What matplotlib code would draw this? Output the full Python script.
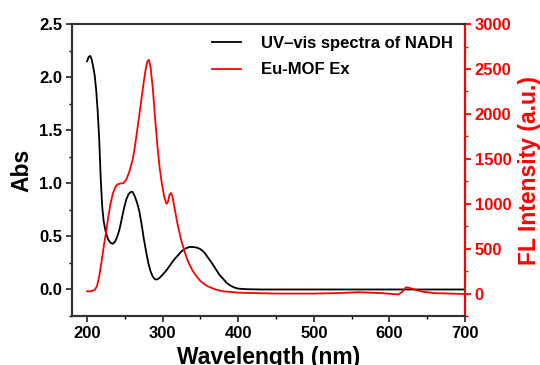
import matplotlib
matplotlib.use("Agg")
import matplotlib.pyplot as plt
from matplotlib.ticker import MultipleLocator

plt.rcParams['font.family'] = ['Liberation Sans', 'DejaVu Sans']
plt.rcParams['font.weight'] = 'bold'

abs_wl = [200, 202, 204, 206, 208, 210, 212, 214, 216, 218, 220, 222, 225, 228, 231, 234, 237, 240,
          243, 246, 249, 252, 255, 258, 260, 263, 266, 269, 272, 275, 278, 281, 284, 287, 290, 293,
          296, 300, 305, 310, 315, 320, 325, 330, 335, 340, 345, 350, 355, 360, 365, 370, 375, 380,
          385, 390, 395, 400, 410, 430, 500, 600, 700]
abs_val = [2.15, 2.19, 2.20, 2.17, 2.10, 2.02, 1.88, 1.68, 1.42, 1.05, 0.78, 0.64, 0.53, 0.47, 0.44,
           0.43, 0.45, 0.50, 0.57, 0.67, 0.77, 0.85, 0.90, 0.92, 0.92, 0.88, 0.82, 0.74, 0.62, 0.48,
           0.36, 0.25, 0.17, 0.12, 0.095, 0.095, 0.11, 0.14, 0.18, 0.23, 0.28, 0.32, 0.36, 0.385,
           0.40, 0.40, 0.395, 0.38, 0.35, 0.30, 0.25, 0.195, 0.14, 0.10, 0.06, 0.035, 0.018, 0.008,
           0.003, 0.0, 0.0, 0.0, 0.0]

fl_wl = [200, 205, 210, 213, 216, 219, 222, 225, 228, 231, 234, 237, 240, 244, 248, 252, 256, 260,
         263, 266, 269, 272, 275, 278, 280, 282, 284, 287, 290, 293, 296, 299, 302, 305, 307, 309,
         311, 313, 316, 320, 325, 330, 335, 340, 345, 350, 355, 360, 370, 380, 400, 450, 500, 530,
         560, 590, 612, 617, 622, 628, 635, 645, 660, 680, 700]
fl_val = [25, 25, 40, 80, 190, 350, 520, 680, 850, 1000, 1110, 1180, 1215, 1225, 1230, 1270, 1360,
          1480, 1620, 1800, 1980, 2170, 2360, 2520, 2590, 2600, 2520, 2280, 1950, 1650, 1400, 1220,
          1080, 1000, 1020, 1100, 1120, 1080, 940, 760, 580, 440, 330, 250, 190, 140, 105, 80, 45,
          25, 10, 0, 0, 5, 15, 5, -10, 20, 70, 60, 40, 20, 5, 0, -5]

label_abs = "UV\u2013vis spectra of NADH"
label_fl = "Eu-MOF Ex"

fig = plt.figure(figsize=(5.4, 3.65), dpi=100)
ax = fig.add_axes([0.1333, 0.1342, 0.7277, 0.7998])
ax2 = ax.twinx()

l1, = ax.plot(abs_wl, abs_val, color='black', lw=1.3, label=label_abs)
l2, = ax2.plot(fl_wl, fl_val, color='#ff0000', lw=1.3, label=label_fl)

ax.set_xlim(180, 700)
ax.set_ylim(-0.25, 2.5)
ax2.set_ylim(-250, 3000)

ax.xaxis.set_major_locator(MultipleLocator(100))
ax.xaxis.set_minor_locator(MultipleLocator(50))
ax.yaxis.set_major_locator(MultipleLocator(0.5))
ax.yaxis.set_minor_locator(MultipleLocator(0.25))
ax2.yaxis.set_major_locator(MultipleLocator(500))
ax2.yaxis.set_minor_locator(MultipleLocator(250))

spc = '#333333'
for a in (ax, ax2):
    for s in a.spines.values():
        s.set_linewidth(1.5)
        s.set_color(spc)
ax2.spines['right'].set_color('#ff0000')

ax.tick_params(axis='both', which='major', direction='out', length=4, width=1.3,
               labelsize=12, colors='black', pad=3)
ax.tick_params(axis='both', which='minor', direction='out', length=2.5, width=1.0, colors='black')
ax.tick_params(axis='both', color=spc)
ax2.tick_params(axis='y', which='major', direction='out', length=4, width=1.3,
                labelsize=12, colors='#ff0000', pad=3)
ax2.tick_params(axis='y', which='minor', direction='out', length=2.5, width=1.0, colors='#ff0000')

for lab in ax.get_xticklabels() + ax.get_yticklabels() + ax2.get_yticklabels():
    lab.set_fontweight('bold')

ax.set_xlabel("Wavelength (nm)", fontsize=16.5, fontweight='bold', labelpad=3.5)
ax.set_ylabel("Abs", fontsize=16.5, fontweight='bold', labelpad=4)
ax2.set_ylabel("FL Intensity (a.u.)", fontsize=16.5, fontweight='bold', color='#ff0000', labelpad=5)

leg = ax.legend(handles=[l1, l2], loc='upper right', frameon=False,
                prop={'size': 12, 'weight': 'bold'}, handlelength=1.75, handletextpad=1.2,
                labelspacing=0.7, borderaxespad=0.3)

fig.savefig("out.png", dpi=100)
